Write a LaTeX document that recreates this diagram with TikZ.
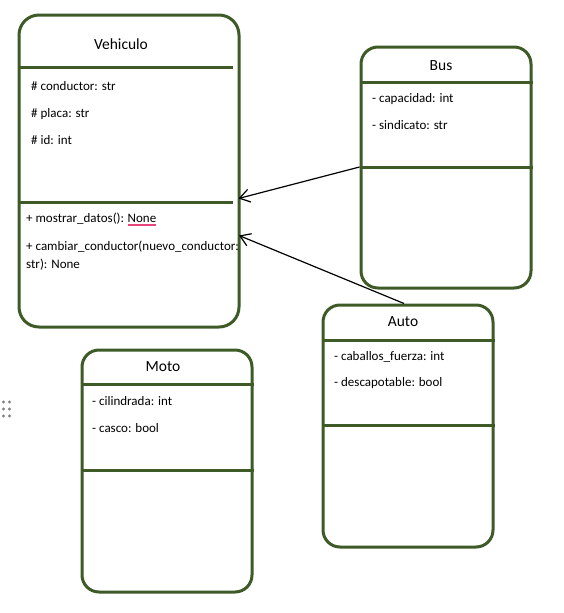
\documentclass[tikz,border=0pt]{standalone}
\usepackage{fontspec}
\setmainfont{Carlito}
\usetikzlibrary{arrows.meta}
\definecolor{boxgreen}{HTML}{3D5A27}
\definecolor{squig}{HTML}{E8457A}
\definecolor{dotgrey}{HTML}{808080}
\begin{document}
\begin{tikzpicture}[x=1pt,y=-1pt,
  umlbox/.style={draw=boxgreen, line width=3pt, fill=white, rectangle, inner sep=0pt, rounded corners=17pt},
  divider/.style={draw=boxgreen, line width=3pt},
  title/.style={anchor=base, inner sep=0pt, font=\fontsize{15.5}{18}\selectfont},
  attr/.style={anchor=base west, inner sep=0pt, font=\fontsize{13}{15}\selectfont},
  inherit/.style={draw=black, line width=1.2pt, -{Straight Barb[length=10pt,width=13pt,line width=1.2pt]}},
  handle/.style={fill=dotgrey, draw=none, circle, inner sep=0pt, minimum size=3.4pt}]
\useasboundingbox (0,0) rectangle (563,613);
% boxes
\node[umlbox, rounded corners=20pt, minimum width=220pt, minimum height=312pt] (veh) at (129,171) {};
\node[umlbox, minimum width=170pt, minimum height=241pt] (bus) at (446,167.5) {};
\node[umlbox, minimum width=170pt, minimum height=242pt] (moto) at (167,471) {};
\node[umlbox, minimum width=170pt, minimum height=242pt] (auto) at (408,426) {};
% dividers
\draw[divider] (veh.west |- 0,67) -- (233,67);
\draw[divider] (veh.west |- 0,202) -- (233,202);
\draw[divider] (bus.west |- 0,82) -- (bus.east |- 0,82);
\draw[divider] (bus.west |- 0,167) -- (bus.east |- 0,167);
\draw[divider] (moto.west |- 0,384) -- (moto.east |- 0,384);
\draw[divider] (moto.west |- 0,470) -- (moto.east |- 0,470);
\draw[divider] (auto.west |- 0,340) -- (auto.east |- 0,340);
\draw[divider] (auto.west |- 0,425) -- (auto.east |- 0,425);
% titles
\node[title] (vehT) at (121,49.3) {Vehiculo};
\node[title] (busT) at (441,70) {Bus};
\node[title] (motoT) at (163,371.7) {Moto};
\node[title] (autoT) at (403,326.7) {Auto};
% Vehiculo text
\node[attr] (v1) at (31,90.5) {\# conductor: str};
\node[attr] (v2) at (31,117.5) {\# placa: str};
\node[attr] (v3) at (31,144.5) {\# id: int};
\node[attr] (m1) at (26,222.5) {+ mostrar\_datos():};
\node[attr, anchor=base west, xshift=3.2pt] (m1n) at (m1.base east) {None};
\node[attr] (m2) at (26,250) {+ cambiar\_conductor(nuevo\_conductor:};
\node[attr] (m3) at (26,268) {str): None};
\draw[squig, line width=1.5pt] ([yshift=-2pt]m1n.south west) -- ([yshift=-2pt]m1n.south east);
% Bus text
\node[attr] (b1) at (372,102) {- capacidad: int};
\node[attr] (b2) at (372,129) {- sindicato: str};
% Moto text
\node[attr] (mo1) at (92,405) {- cilindrada: int};
\node[attr] (mo2) at (92,432) {- casco: bool};
% Auto text
\node[attr] (a1) at (334,360) {- caballos\_fuerza: int};
\node[attr] (a2) at (334,386.5) {- descapotable: bool};
% connectors
\coordinate (busStart) at (bus.west |- 0,167);
\coordinate (autoStart) at ([xshift=-4pt]auto.north);
\coordinate (vehIn1) at (238.5,198.5);
\coordinate (vehIn2) at (239,235.5);
\draw[inherit] (busStart) -- (vehIn1);
\draw[inherit] (autoStart) -- (vehIn2);
% drag handle dots
\foreach \i/\yy in {1/402,2/409,3/416}{
  \node[handle] (hl\i) at (3.5,\yy) {};
  \node[handle] (hr\i) at (9.5,\yy) {};
}
\end{tikzpicture}
\end{document}
